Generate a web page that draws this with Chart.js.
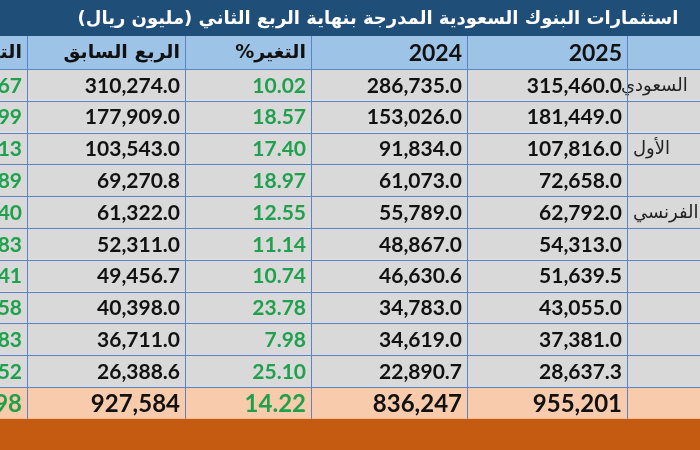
<!DOCTYPE html>
<html>
<head>
<meta charset="utf-8">
<script src="https://cdn.jsdelivr.net/npm/chart.js@4"></script>
<style>
  html, body { margin: 0; padding: 0; background: #fff; }
  #wrap { width: 700px; height: 450px; }
</style>
</head>
<body>
<div id="wrap"><canvas id="table-chart"></canvas></div>
<script>
const title = "استثمارات البنوك السعودية المدرجة بنهاية الربع الثاني (مليون ريال)";
const headers = ["التغير%", "الربع السابق", "التغير%", "2024", "2025", ""];
// only the ends of the long bank names are visible in the cropped picture
const bankTails = ["السعودي", "", "الأول", "", "الفرنسي", "", "", "", "", "", ""];
const y2025 = ["315,460.0", "181,449.0", "107,816.0", "72,658.0", "62,792.0", "54,313.0", "51,639.5", "43,055.0", "37,381.0", "28,637.3", "955,201"];
const y2024 = ["286,735.0", "153,026.0", "91,834.0", "61,073.0", "55,789.0", "48,867.0", "46,630.6", "34,783.0", "34,619.0", "22,890.7", "836,247"];
const yoyChange = ["10.02", "18.57", "17.40", "18.97", "12.55", "11.14", "10.74", "23.78", "7.98", "25.10", "14.22"];
const prevQuarter = ["310,274.0", "177,909.0", "103,543.0", "69,270.8", "61,322.0", "52,311.0", "49,456.7", "40,398.0", "36,711.0", "26,388.6", "927,584"];
const qoqChange = ["1.67", "1.99", "4.13", "4.89", "2.40", "3.83", "4.41", "6.58", "1.83", "8.52", "2.98"];

// column edges in scale units (left to right), and row edges
const colEdges = [0, 27, 185, 311, 467, 627, 700];
const titleBottom = 36, headerBottom = 69, rowH = 31.8;

const ARABIC = "'DejaVu Sans', 'Noto Sans', sans-serif";
const NUM = "Lato, 'Open Sans', sans-serif";

const tablePlugin = {
    id: "table",
    afterDraw(chart) {
        const {ctx, scales: {x, y}} = chart;
        const px = v => x.getPixelForValue(v);
        const py = v => y.getPixelForValue(v);
        const rect = (x0, y0, x1, y1, c) => { ctx.fillStyle = c; ctx.fillRect(px(x0), py(y0), px(x1) - px(x0), py(y1) - py(y0)); };
        ctx.save();

        // title bar
        rect(0, 0, 700, titleBottom, "#1f4e79");
        ctx.fillStyle = "#fff";
        ctx.font = "bold 18px " + ARABIC;
        ctx.textAlign = "center";
        ctx.textBaseline = "middle";
        ctx.direction = "rtl";
        ctx.fillText(title, px(378), py(titleBottom / 2 + 1));

        // header row
        rect(0, titleBottom, 700, headerBottom, "#9dc3e6");
        ctx.fillStyle = "#111";
        headers.forEach((h, i) => {
            if (!h) return;
            const isNum = /^\d+$/.test(h);
            ctx.font = isNum ? "bold 23px " + NUM : "bold 19px " + ARABIC;
            ctx.textAlign = "right";
            ctx.direction = isNum ? "ltr" : "rtl";
            ctx.fillText(h, px(colEdges[i + 1] - 5), py((titleBottom + headerBottom) / 2 + 1));
        });

        // body rows
        const cols = [qoqChange, prevQuarter, yoyChange, y2024, y2025];
        bankTails.forEach((b, r) => {
            const top = headerBottom + r * rowH, bot = top + rowH, mid = (top + bot) / 2 + 1;
            const total = r === bankTails.length - 1;
            rect(0, top, 700, bot, total ? "#f8cbad" : "#d9d9d9");
            cols.forEach((col, c) => {
                const green = c === 0 || c === 2;
                ctx.fillStyle = green ? "#1fa04d" : "#111";
                ctx.font = (total ? "bold 24px " : "bold 21px ") + NUM;
                ctx.textAlign = "right";
                ctx.direction = "ltr";
                ctx.fillText(col[r], px(colEdges[c + 1] - 5), py(mid));
            });
            if (b) {
                ctx.fillStyle = "#222";
                ctx.font = "18px " + ARABIC;
                ctx.direction = "rtl";
                ctx.textAlign = "left";
                const shift = r === 0 ? -12 : 0;
                ctx.fillText(b, px(colEdges[5] + 6 + shift), py(mid));
            }
        });
        // repaint the gap left of the label column so clipped words stay inside it
        const lastBot = headerBottom + bankTails.length * rowH;

        // grid lines
        ctx.strokeStyle = "#5b84c4";
        ctx.lineWidth = 1;
        for (let r = 0; r <= bankTails.length; r++) {
            const yy = Math.round(py(headerBottom + r * rowH)) + 0.5;
            ctx.beginPath(); ctx.moveTo(px(0), yy); ctx.lineTo(px(700), yy); ctx.stroke();
        }
        colEdges.slice(1, -1).forEach(e => {
            const xx = Math.round(px(e)) + 0.5;
            ctx.beginPath(); ctx.moveTo(xx, py(titleBottom)); ctx.lineTo(xx, py(lastBot)); ctx.stroke();
        });

        // bottom band
        rect(0, lastBot, 700, 450, "#c55a11");
        ctx.restore();
    }
};

new Chart(document.getElementById("table-chart"), {
    type: "scatter",
    data: {datasets: [{data: []}]},
    options: {
        responsive: true,
        maintainAspectRatio: false,
        animation: false,
        layout: {padding: 0},
        scales: {
            x: {type: "linear", min: 0, max: 700, display: false},
            y: {type: "linear", min: 0, max: 450, reverse: true, display: false},
        },
        plugins: {legend: {display: false}, tooltip: {enabled: false}},
    },
    plugins: [tablePlugin],
});
</script>
</body>
</html>
